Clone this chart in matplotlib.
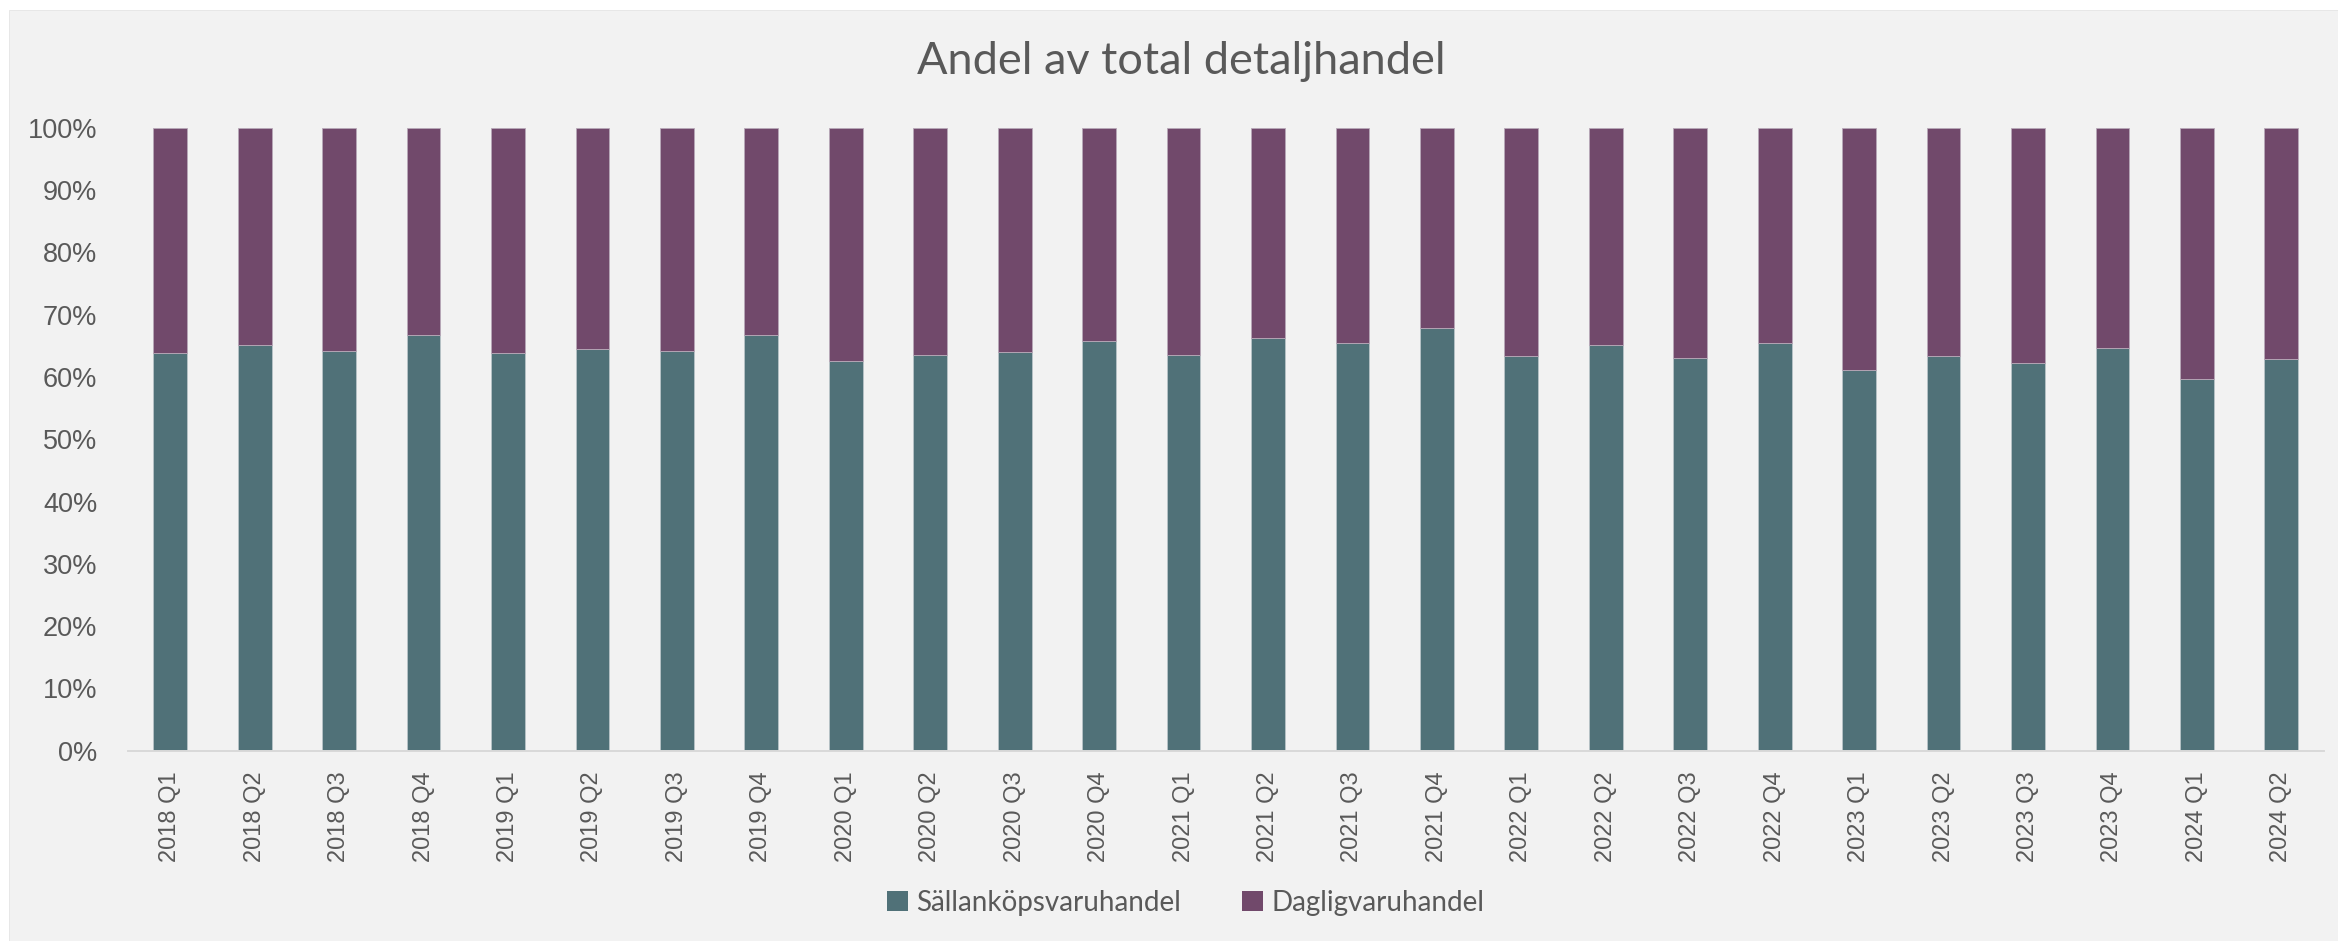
import numpy as np
import matplotlib
matplotlib.use("Agg")
from matplotlib import pyplot as plt
from matplotlib.patches import Rectangle
from matplotlib.ticker import PercentFormatter

# quarters on the x axis
quarters = [f"{y} Q{q}" for y in range(2018, 2025) for q in range(1, 5)][:26]

# share of specialty retail (Sällanköpsvaruhandel)
sallankop = [0.638, 0.651, 0.641, 0.668, 0.639, 0.645, 0.641, 0.667,
             0.626, 0.635, 0.640, 0.658, 0.635, 0.662, 0.655, 0.678,
             0.634, 0.652, 0.631, 0.655, 0.611, 0.633, 0.622, 0.646,
             0.596, 0.628]
# daily goods (Dagligvaruhandel) is the rest
dagligvaror = [1 - v for v in sallankop]

TEAL = "#507178"
PURPLE = "#71496b"
GREY_TXT = "#595959"

W, H = 2338, 941
fig = plt.figure(figsize=(W / 100, H / 100), dpi=100, facecolor="white")
fig.patches.append(Rectangle((9 / W, 0), 1 - 9 / W, (H - 10) / H,
                             transform=fig.transFigure, facecolor="#f2f2f2",
                             edgecolor="#e4e4e4", linewidth=0.6, zorder=-10))

ax = fig.add_axes([128 / W, 190.3 / H, 2195.6 / W, 623 / H])
ax.set_facecolor("none")

x = np.arange(len(quarters))
ax.bar(x, sallankop, width=0.40, color=TEAL, edgecolor="#b8c4c8",
       linewidth=0.6, label="Sällanköpsvaruhandel")
ax.bar(x, dagligvaror, width=0.40, bottom=sallankop, color=PURPLE,
       edgecolor="#b8a8b8", linewidth=0.6, label="Dagligvaruhandel")

ax.set_xlim(-0.5, len(quarters) - 0.5)
ax.set_ylim(0, 1)
ax.set_yticks(np.arange(0, 1.01, 0.1))
ax.yaxis.set_major_formatter(PercentFormatter(1.0, decimals=0))
ax.set_xticks(x)
ax.set_xticklabels(quarters, rotation=90)

for s in ["top", "right", "left"]:
    ax.spines[s].set_visible(False)
ax.spines["bottom"].set_color("#d9d9d9")
ax.spines["bottom"].set_linewidth(1.4)

ax.tick_params(axis="y", length=0, pad=22, labelsize=19.5, labelcolor=GREY_TXT)
ax.tick_params(axis="x", length=0, pad=15, labelsize=17, labelcolor=GREY_TXT)
for lab in ax.get_xticklabels() + ax.get_yticklabels():
    lab.set_family("Liberation Sans")

fig.text(1181 / W, 1 - 62 / H, "Andel av total detaljhandel", ha="center",
         va="center", fontsize=32.5, color=GREY_TXT, family="Lato")

leg = fig.legend(loc="center", bbox_to_anchor=(1186 / W, 1 - 903 / H),
                 ncol=2, frameon=False, handlelength=0.75,
                 handleheight=0.75, handletextpad=0.3, columnspacing=2.2,
                 prop={"family": "Lato", "size": 20})
for t in leg.get_texts():
    t.set_color(GREY_TXT)
for h in leg.legend_handles:
    h.set_edgecolor("none")

fig.savefig("out.png", dpi=100, facecolor=fig.get_facecolor())
